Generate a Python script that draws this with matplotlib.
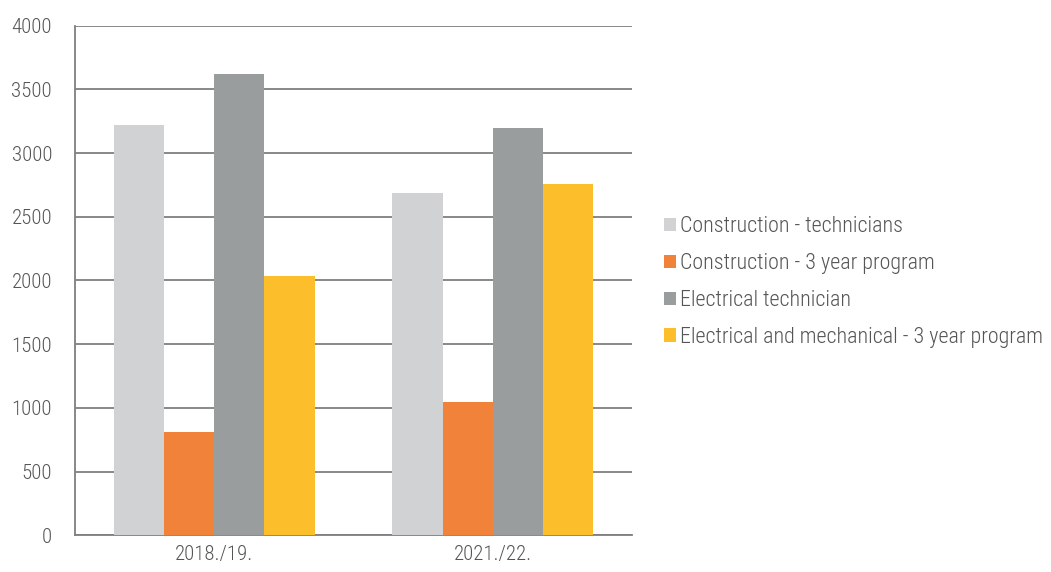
import matplotlib
matplotlib.use("Agg")
import matplotlib.pyplot as plt
import numpy as np
from matplotlib import font_manager

# Data
categories = ["2018./19.", "2021./22."]
series_names = [
    "Construction - technicians",
    "Construction - 3 year program",
    "Electrical technician",
    "Electrical and mechanical - 3 year program",
]
construction_tech = [3220, 2685]
construction_3yr = [810, 1050]
electrical_tech = [3620, 3200]
elec_mech_3yr = [2035, 2755]
colors = ["#D1D2D4", "#F0823A", "#9A9D9E", "#FDBE2C"]
y_ticks = [0, 500, 1000, 1500, 2000, 2500, 3000, 3500, 4000]

# Pick a condensed sans-serif face
available = {f.name for f in font_manager.fontManager.ttflist}
preferred = ["Roboto Condensed", "Liberation Sans Narrow", "Archivo Narrow",
             "Barlow Semi Condensed", "Asap Condensed", "Roboto"]
chosen = next(n for n in preferred if n in available)
plt.rcParams["font.family"] = [chosen, "DejaVu Sans"]
plt.rcParams["font.weight"] = "light"

fig = plt.figure(figsize=(10.51, 5.72), dpi=100)
ax = fig.add_axes([75 / 1051, 1 - 535.3 / 572, (632 - 75) / 1051, (535.3 - 25.7) / 572])

values = [construction_tech, construction_3yr, electrical_tech, elec_mech_3yr]
x = np.arange(len(categories))
w = 0.18
offsets = (np.arange(4) - 1.5) * w
handles = []
for vals, off, c, name in zip(values, offsets, colors, series_names):
    h = ax.bar(x + off, vals, width=w, color=c, label=name, zorder=3, linewidth=0)
    handles.append(h)

ax.set_xlim(-0.5, 1.5)
ax.set_ylim(0, 4000)
ax.set_yticks(y_ticks)
ax.set_xticks(x)
ax.set_xticklabels(categories)
ax.yaxis.grid(True, color="#7F7F7F", linewidth=1.3, zorder=0)
ax.set_axisbelow(True)
for s in ["top", "right"]:
    ax.spines[s].set_visible(False)
for s in ["left", "bottom"]:
    ax.spines[s].set_color("#7F7F7F")
    ax.spines[s].set_linewidth(1.3)
ax.tick_params(axis="both", length=0, labelsize=15, colors="#555555")
ax.tick_params(axis="x", pad=7)
ax.tick_params(axis="y", pad=16.5)

leg = fig.legend(
    handles=handles,
    labels=series_names,
    loc="center left",
    bbox_to_anchor=(664 / 1051, 1 - 282 / 572),
    frameon=False,
    fontsize=15.8,
    handlelength=0.55,
    handleheight=0.55,
    handletextpad=0.2,
    labelspacing=0.72,
    borderpad=0,
    borderaxespad=0,
)
for t in leg.get_texts():
    t.set_color("#555555")

fig.savefig("out.png", dpi=100)
